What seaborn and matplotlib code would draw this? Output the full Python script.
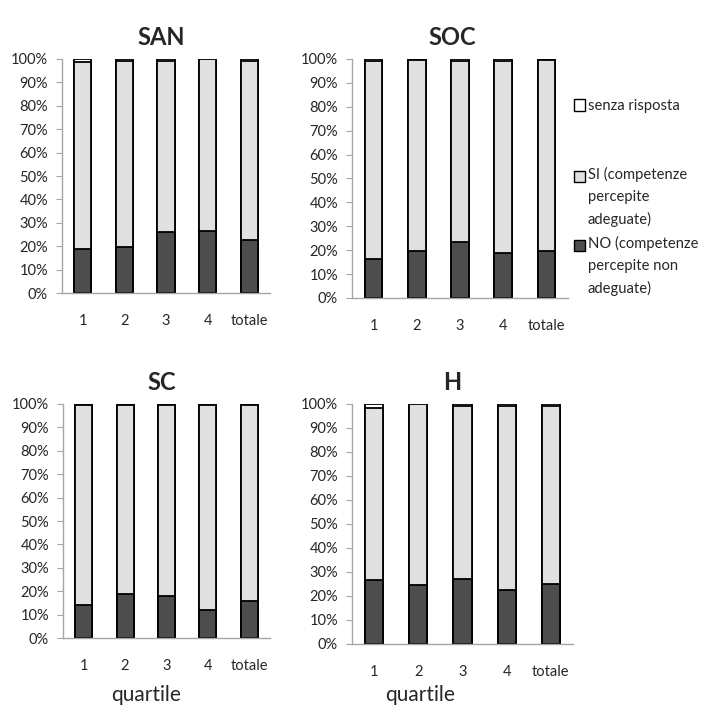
import pandas as pd
import matplotlib.pyplot as plt
import matplotlib.patches as mpatches
from matplotlib.legend_handler import HandlerPatch
from matplotlib.ticker import PercentFormatter, FixedLocator
import seaborn as sns

# categorie (quartili)
quartili = ['1', '2', '3', '4', 'totale']

# percentuali: NO / SI / senza risposta
san_no = [19.0, 19.5, 26.0, 26.5, 22.5]
san_si = [79.5, 79.5, 73.0, 73.3, 76.5]
san_sr = [1.5, 1.0, 1.0, 0.2, 1.0]

soc_no = [16.5, 19.5, 23.5, 19.0, 19.5]
soc_si = [82.5, 80.0, 75.5, 80.2, 80.0]
soc_sr = [1.0, 0.5, 1.0, 0.8, 0.5]

sc_no = [14.0, 19.0, 18.0, 12.0, 16.0]
sc_si = [85.5, 80.5, 81.5, 87.5, 83.5]
sc_sr = [0.5, 0.5, 0.5, 0.5, 0.5]

h_no = [26.5, 24.5, 27.0, 22.5, 25.0]
h_si = [71.8, 75.5, 72.0, 76.5, 74.3]
h_sr = [1.7, 0.0, 1.0, 1.0, 0.7]

pannelli = [
    ('SAN', san_no, san_si, san_sr),
    ('SOC', soc_no, soc_si, soc_sr),
    ('SC', sc_no, sc_si, sc_sr),
    ('H', h_no, h_si, h_sr),
]

lbl_sr = 'senza risposta'
lbl_si = 'SI (competenze\npercepite\nadeguate)'
lbl_no = 'NO (competenze\npercepite non\nadeguate)'

col_no = '#4d4d4d'
col_si = '#e0e0e0'
col_sr = '#ffffff'
grigio = '#a6a6a6'

sns.set_style('white')
plt.rcParams['font.family'] = ['Lato', 'DejaVu Sans']

fig = plt.figure(figsize=(7.02, 7.09), dpi=100)

# posizioni assi [left, bottom, width, height], x del titolo e posizione di "quartile"
posizioni = [
    ([0.0883, 0.5867, 0.2963, 0.3301], 0.476, None),
    ([0.5014, 0.5797, 0.3077, 0.3371], 0.463, None),
    ([0.0897, 0.1001, 0.2949, 0.3301], 0.478, (0.40, -0.244)),
    ([0.5014, 0.0917, 0.3148, 0.3385], 0.452, (0.31, -0.2125)),
]

for (nome, no, si, sr), (pos, tx, qpos) in zip(pannelli, posizioni):
    ax = fig.add_axes(pos)
    df = pd.DataFrame({'quartile': quartili, 'no': no, 'si': si, 'sr': sr})
    df['cum_si'] = df['no'] + df['si']
    df['cum_sr'] = df['cum_si'] + df['sr']

    # barre impilate: prima il totale cumulato, poi sopra le parti inferiori
    for col, colore in [('cum_sr', col_sr), ('cum_si', col_si), ('no', col_no)]:
        sns.barplot(data=df, x='quartile', y=col, order=quartili, color=colore,
                    width=0.41, edgecolor='black', linewidth=1.3, saturation=1,
                    ax=ax)

    ax.set_xlim(-0.5, 4.5)
    ax.set_ylim(0, 100)
    ax.yaxis.set_major_locator(FixedLocator(range(0, 101, 10)))
    ax.yaxis.set_major_formatter(PercentFormatter(decimals=0))
    ax.set_ylabel('')
    if qpos:
        ax.set_xlabel('quartile', fontsize=15, va='center')
        ax.xaxis.set_label_coords(*qpos)
    else:
        ax.set_xlabel('')
    ax.set_title(nome, fontsize=17, fontweight='bold', pad=10, x=tx)

    for s in ['top', 'right']:
        ax.spines[s].set_visible(False)
    for s in ['left', 'bottom']:
        ax.spines[s].set_color(grigio)
        ax.spines[s].set_linewidth(1.0)

    ax.xaxis.set_minor_locator(FixedLocator([-0.5, 0.5, 1.5, 2.5, 3.5, 4.5]))
    ax.tick_params(axis='x', which='major', length=0, pad=15, labelsize=10.5)
    ax.tick_params(axis='x', which='minor', length=5, color=grigio, direction='out')
    ax.tick_params(axis='y', length=4, color=grigio, direction='out', labelsize=10.5, pad=6)
    ax.tick_params(left=True, bottom=True)
    ax.grid(False)


class QuadratoInAlto(HandlerPatch):
    # quadratino allineato alla prima riga del testo (come in Excel)
    def __init__(self, righe, **kw):
        super().__init__(**kw)
        self.righe = righe

    def create_artists(self, legend, orig_handle, xdescent, ydescent,
                       width, height, fontsize, trans):
        sposta = (self.righe - 1) * 0.5 * 15.1
        p = mpatches.Rectangle((-xdescent, -ydescent + sposta), width, height,
                               facecolor=orig_handle.get_facecolor(),
                               edgecolor='black', linewidth=1.0, transform=trans)
        return [p]


voci = [
    (col_sr, lbl_sr, 1, 0.8505),
    (col_si, lbl_si, 3, 0.7222),
    (col_no, lbl_no, 3, 0.6248),
]
for colore, testo, righe, yc in voci:
    h = mpatches.Patch(facecolor=colore, edgecolor='black', label=testo)
    leg = fig.legend(handles=[h], loc='center left', bbox_to_anchor=(0.817, yc),
                     frameon=False, fontsize=10.6, handlelength=0.8, handleheight=0.8,
                     handletextpad=0.15, borderpad=0, borderaxespad=0,
                     handler_map={h: QuadratoInAlto(righe)})
    for t in leg.get_texts():
        t.set_linespacing(1.7)

fig.savefig('out.png', dpi=100)
